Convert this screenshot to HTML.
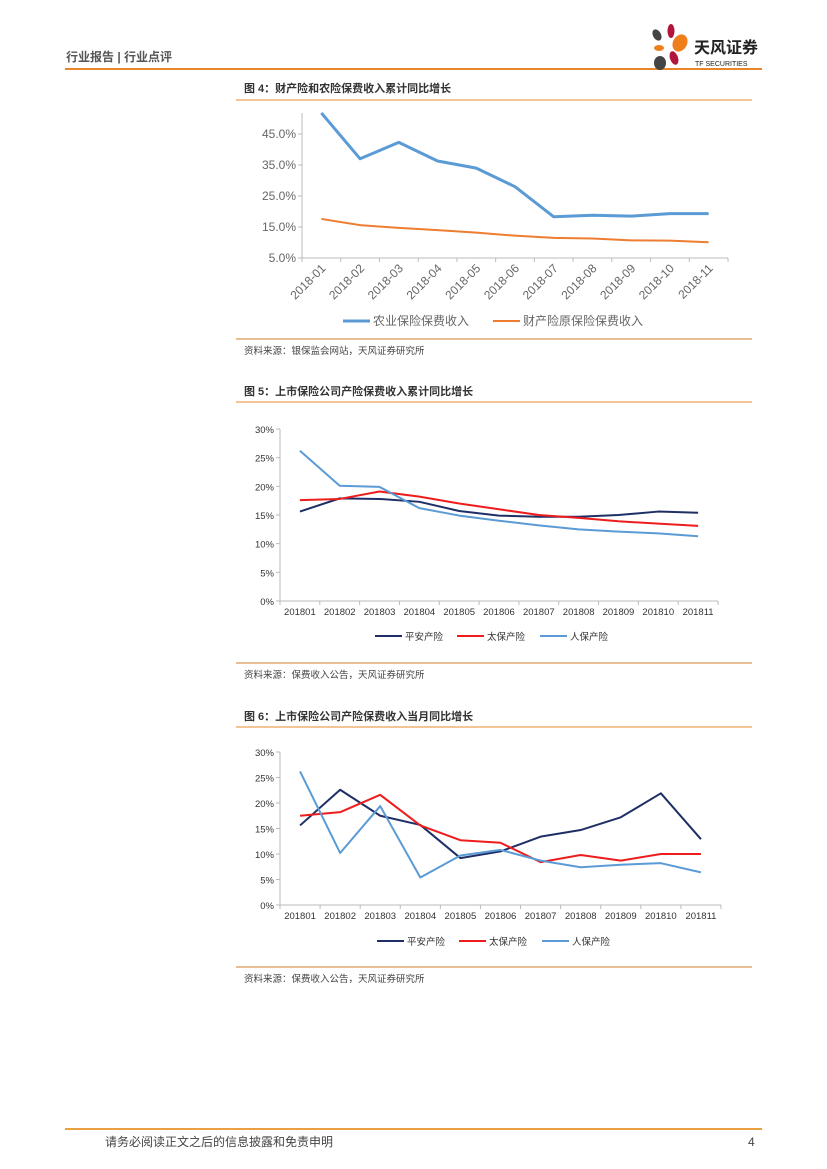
<!DOCTYPE html>
<html><head><meta charset="utf-8">
<style>
html,body{margin:0;padding:0;background:#fff;}
body{width:827px;height:1169px;position:relative;overflow:hidden;font-family:"Liberation Sans","Noto Sans CJK SC",sans-serif;}
svg{position:absolute;left:0;top:0;}
</style></head>
<body>
<svg id="page" width="827" height="1169" viewBox="0 0 827 1169" xmlns="http://www.w3.org/2000/svg" font-family="Liberation Sans, Noto Sans CJK SC, sans-serif">
  <g>
    <text x="66" y="61" font-size="12" fill="#555" font-weight="bold">行业报告 | 行业点评</text>
    <line x1="65" y1="69" x2="762" y2="69" stroke="#e8862e" stroke-width="2"/>
    <g>
      <ellipse cx="657" cy="35" rx="4" ry="6" fill="#444" transform="rotate(-30 657 35)"/>
      <ellipse cx="671" cy="31" rx="3.5" ry="7" fill="#b3143c"/>
      <ellipse cx="680" cy="43" rx="7" ry="9" fill="#ef7f1a" transform="rotate(30 680 43)"/>
      <ellipse cx="659" cy="48" rx="5" ry="3" fill="#ef7f1a"/>
      <ellipse cx="674" cy="58" rx="4" ry="7" fill="#b3143c" transform="rotate(-20 674 58)"/>
      <ellipse cx="660" cy="63" rx="6" ry="7" fill="#444"/>
      <text x="694" y="53" font-size="16" font-weight="bold" fill="#222">天风证券</text>
      <text x="695" y="66" font-size="7" fill="#222">TF SECURITIES</text>
    </g>
  </g>
  <g id="c4"></g>
  <g id="c5"></g>
  <g id="c6"></g>
  <g>
    <line x1="65" y1="1129" x2="762" y2="1129" stroke="#e8a040" stroke-width="2"/>
    <text x="105" y="1146" font-size="12" fill="#444">请务必阅读正文之后的信息披露和免责申明</text>
    <text x="748" y="1146" font-size="12" fill="#444">4</text>
  </g>
</svg>
<script>
const NS='http://www.w3.org/2000/svg';
// Figure 4 data
const cats4=['2018-01','2018-02','2018-03','2018-04','2018-05','2018-06','2018-07','2018-08','2018-09','2018-10','2018-11'];
const agri4=[51.8,37.0,42.3,36.3,34.0,28.0,18.3,18.8,18.5,19.3,19.3];
const prop4=[17.6,15.6,14.7,14.0,13.2,12.2,11.5,11.3,10.7,10.6,10.1];
const ticks4=[5,15,25,35,45];
const names4=['农业保险保费收入','财产险原保险保费收入'];
// Figure 5 data
const cats5=['201801','201802','201803','201804','201805','201806','201807','201808','201809','201810','201811'];
const pingan5=[15.6,17.9,17.8,17.3,15.7,14.9,14.7,14.7,15.0,15.6,15.4];
const taibao5=[17.6,17.8,19.1,18.2,17.0,16.0,15.0,14.5,13.9,13.5,13.1];
const renbao5=[26.2,20.1,19.9,16.2,14.9,14.0,13.2,12.5,12.1,11.8,11.3];
// Figure 6 data
const pingan6=[15.6,22.6,17.5,15.7,9.2,10.5,13.4,14.7,17.2,21.9,12.9];
const taibao6=[17.5,18.2,21.6,15.6,12.7,12.2,8.4,9.8,8.7,10.0,10.0];
const renbao6=[26.2,10.2,19.4,5.4,9.7,10.8,8.7,7.4,7.9,8.2,6.4];
const ticks56=[0,5,10,15,20,25,30];
const names56=['平安产险','太保产险','人保产险'];

function mk(parent,tag,attrs,txt){const e=document.createElementNS(NS,tag);for(const k in attrs)e.setAttribute(k,attrs[k]);if(txt!==undefined)e.textContent=txt;parent.appendChild(e);return e;}

function frame(g,title,titleY,lineY,srcLineY,src){
  const t=mk(g,'text',{x:244,y:titleY,'font-size':11,'font-weight':'bold',fill:'#333'},title);
  
  
  mk(g,'line',{x1:236,y1:lineY,x2:752,y2:lineY,stroke:'#f0a050','stroke-width':1.3});
  mk(g,'line',{x1:236,y1:srcLineY,x2:752,y2:srcLineY,stroke:'#d89a50','stroke-width':1.3});
  const s=mk(g,'text',{x:244,y:srcLineY+15,'font-size':9.5,fill:'#444'},src);
  
  
}

function chart(g,o){
  const y=v=>o.y0-(v-o.vmin)*(o.y0-o.y1)/(o.vmax-o.vmin);
  const n=o.cats.length;
  const step=(o.xr-o.xl)/n;
  const x=i=>o.xl+step*(i+0.5);
  mk(g,'line',{x1:o.xl,y1:o.ytop,x2:o.xl,y2:o.y0,stroke:'#bbb','stroke-width':1});
  mk(g,'line',{x1:o.xl,y1:o.y0,x2:o.xr,y2:o.y0,stroke:'#bbb','stroke-width':1});
  for(let i=0;i<=n;i++){mk(g,'line',{x1:o.xl+step*i,y1:o.y0,x2:o.xl+step*i,y2:o.y0+4,stroke:'#bbb'});}
  o.ticks.forEach(v=>{
    mk(g,'line',{x1:o.xl-4,y1:y(v),x2:o.xl,y2:y(v),stroke:'#bbb'});
    const t=mk(g,'text',{x:o.xl-6,y:y(v)+4,'font-size':o.fs,fill:o.tc,'text-anchor':'end'},o.fmt(v));
    
    
  });
  o.cats.forEach((c,i)=>{
    let t;
    if(o.rot){t=mk(g,'text',{x:x(i)+5,y:o.y0+11,'font-size':o.fs,fill:o.tc,'text-anchor':'end',transform:`rotate(-45 ${x(i)+5} ${o.y0+11})`},c);}
    else{t=mk(g,'text',{x:x(i),y:o.y0+14,'font-size':o.fs,fill:o.tc,'text-anchor':'middle'},c);}
    
    
  });
  o.series.forEach((s,k)=>{
    const p=mk(g,'polyline',{points:s.vals.map((v,i)=>x(i)+','+y(v)).join(' '),fill:'none',stroke:s.color,'stroke-width':s.w,'stroke-linejoin':'round'});
    
    
    const lx=o.legX[k];
    const lg=mk(g,'g',{});
    
    
    mk(lg,'line',{x1:lx,y1:o.legY,x2:lx+27,y2:o.legY,stroke:s.color,'stroke-width':s.w});
    mk(lg,'text',{x:lx+30,y:o.legY+4,'font-size':o.legFs,fill:o.tc},s.name);
  });
}

const g4=document.getElementById('c4');
frame(g4,'图 4：财产险和农险保费收入累计同比增长',92,100,339,'资料来源：银保监会网站，天风证券研究所');
chart(g4,{cats:cats4,ticks:ticks4,vmin:5,vmax:45,y0:258,y1:134,ytop:113,xl:302,xr:728,fs:12,tc:'#666',rot:true,fmt:v=>v.toFixed(1)+'%',
  series:[{vals:agri4,color:'#5b9bd5',w:3,name:names4[0]},{vals:prop4,color:'#ed7d31',w:2,name:names4[1]}],
  legX:[343,493],legY:321,legFs:12});

const g5=document.getElementById('c5');
frame(g5,'图 5：上市保险公司产险保费收入累计同比增长',395,402,663,'资料来源：保费收入公告，天风证券研究所');
chart(g5,{cats:cats5,ticks:ticks56,vmin:0,vmax:30,y0:601,y1:429,ytop:429,xl:280,xr:718,fs:9.5,tc:'#333',rot:false,fmt:v=>v+'%',
  series:[{vals:pingan5,color:'#1f2f66',w:2,name:names56[0]},{vals:taibao5,color:'#ee1c1c',w:2,name:names56[1]},{vals:renbao5,color:'#5b9bd5',w:2,name:names56[2]}],
  legX:[375,457,540],legY:636,legFs:9.5});

const g6=document.getElementById('c6');
frame(g6,'图 6：上市保险公司产险保费收入当月同比增长',720,727,967,'资料来源：保费收入公告，天风证券研究所');
chart(g6,{cats:cats5,ticks:ticks56,vmin:0,vmax:30,y0:905,y1:752,ytop:752,xl:280,xr:721,fs:9.5,tc:'#333',rot:false,fmt:v=>v+'%',
  series:[{vals:pingan6,color:'#1f2f66',w:2,name:names56[0]},{vals:taibao6,color:'#ee1c1c',w:2,name:names56[1]},{vals:renbao6,color:'#5b9bd5',w:2,name:names56[2]}],
  legX:[377,459,542],legY:941,legFs:9.5});
</script>
</body></html>
